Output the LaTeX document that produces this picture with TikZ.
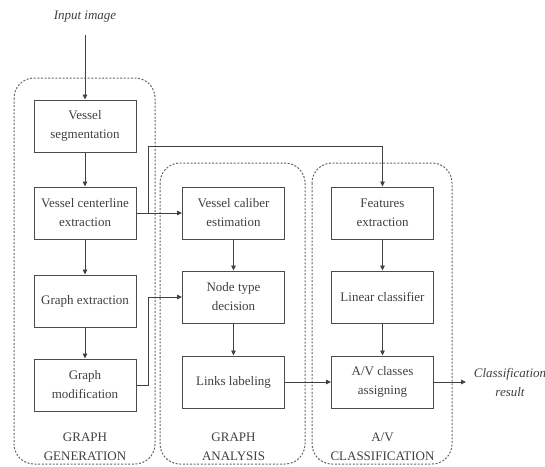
\documentclass[tikz,border=0pt]{standalone}
\usepackage{fontspec}
\setmainfont{Liberation Serif}
\usetikzlibrary{arrows.meta}
\begin{document}
\begin{tikzpicture}[x=1pt,y=-1pt,
  every node/.style={font=\fontsize{13}{19}\selectfont, text=black!75},
  box/.style={draw=black!70, line width=1pt, minimum width=102pt, minimum height=52pt, align=center, inner sep=2pt},
  grp/.style={draw=black!60, line width=1pt, dash pattern=on 2pt off 1.6pt, rounded corners=20pt},
  conn/.style={draw=black!75, line width=0.9pt},
  arr/.style={conn, -{Triangle[length=5pt,width=4.5pt]}},
  lbl/.style={align=center, font=\fontsize{13}{19}\selectfont}
]
\useasboundingbox (0,0) rectangle (545,466);
% groups
\draw[grp] (14,78) rectangle (155,464);
\draw[grp] (160,163) rectangle (305,464);
\draw[grp] (312,163) rectangle (452,464);
% input
\node[font=\fontsize{13}{19}\selectfont\itshape] (in) at (85,17) {Input image};
\coordinate (inb) at (85,35);
% left column
\node[box] (seg) at (85,126) {Vessel\\segmentation};
\node[box] (cen) at (85,213) {Vessel centerline\\extraction};
\node[box] (gex) at (85,301) {Graph extraction};
\node[box] (gmo) at (85,385) {Graph\\modification};
% middle column
\node[box] (cal) at (233.5,213) {Vessel caliber\\estimation};
\node[box] (ntd) at (233.5,297) {Node type\\decision};
\node[box] (lnk) at (233.5,382) {Links labeling};
% right column
\node[box] (fea) at (382.5,213) {Features\\extraction};
\node[box] (lin) at (382.5,297) {Linear classifier};
\node[box] (avc) at (382.5,382) {A/V classes\\assigning};
% output
\node[lbl, font=\fontsize{13}{19}\selectfont\itshape] (res) at (510,382) {Classification\\result};
\coordinate (resw) at (466,382);
% group labels
\node[lbl] (l1) at (85,447) {GRAPH\\GENERATION};
\node[lbl] (l2) at (233.5,447) {GRAPH\\ANALYSIS};
\node[lbl] (l3) at (382.5,447) {A/V\\CLASSIFICATION};
% connectors
\draw[arr] (inb) -- (seg.north);
\draw[arr] (seg) -- (cen);
\draw[arr] (cen) -- (gex);
\draw[arr] (gex) -- (gmo);
\coordinate (j) at (148,213);
\coordinate (jt) at (148,146);
\draw[arr] (cen.east) -- (cal.west);
\draw[arr] (j) -- (jt) -| (fea.north);
\draw[arr] (gmo.east) -- (148,385) |- (ntd.west);
\draw[arr] (cal) -- (ntd);
\draw[arr] (ntd) -- (lnk);
\draw[arr] (fea) -- (lin);
\draw[arr] (lin) -- (avc);
\draw[arr] (lnk.east) -- (avc.west);
\draw[arr] (avc.east) -- (resw);
\end{tikzpicture}
\end{document}
